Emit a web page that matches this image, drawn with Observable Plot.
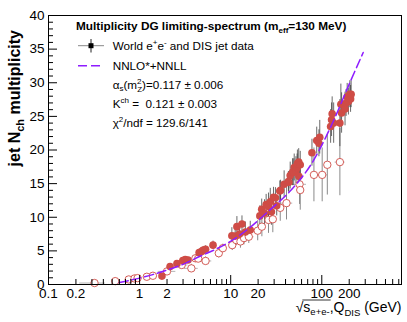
<!DOCTYPE html>
<html><head><meta charset="utf-8">
<script src="https://cdn.jsdelivr.net/npm/d3@7"></script>
<script src="https://cdn.jsdelivr.net/npm/@observablehq/plot@0.6"></script>
<style>
body{margin:0;background:#fff}
svg{font-family:"Liberation Sans",Arial,Helvetica,sans-serif}
</style>
</head><body><div id="chart"></div>
<script>
// ---- data ----
// filled points: world e+e- data
const filledX   = [1.76,2.16,2.57,2.98,3.17,3.4,4.5,4.8,4.95,5.3,6.4,10.3,11.2,11.7,12.5,13.3,14.5,16.4,20.9,21.9,23.5,24.5,26,27.2,28,29.5,31,32,34.6,35.3,38.6,43,43.5,45,47.7,49.2,49.8,52,53.6,54,55.8,56,58,78,88,93,95,125,128,130,135,158,162,165,180,185,190,196,203,207,210];
const filledN   = [1.25,2.66,3.1,3.55,3.7,3.65,4.75,4.9,5.1,5.25,5.85,7.25,7.2,8.6,7.5,9.0,7.8,8.1,10.2,11.2,10.6,11.9,11.6,12.3,10.8,12.95,12.9,11.7,13.9,14.0,14.9,15.3,15.2,16.2,16.7,16.7,17.4,17.0,17.4,18.0,18.2,16.1,17.8,19.6,21.4,21.0,21.9,23.5,24.5,25.4,24.0,24.0,26.8,25.5,26.1,27.0,27.9,27.2,28.3,27.6,28.3];
const filledErr = [0.3,0.3,0.3,0.4,0.4,0.4,0.5,0.5,0.5,0.5,0.6,1.2,1.5,1.5,1.6,1.2,1.5,1.3,1.5,1.5,2,1.5,2,2,2,1.5,1.5,1.5,1.5,1.5,2,1.5,1.5,2,2,2,2,2,2,2,2,2.5,2,2,2,2,2.5,2.5,2.5,2.5,3,3.5,3,3,2.5,2,2,2,2,2,2];
// open points: DIS jet data
const openX   = [0.32,0.54,0.76,0.88,0.95,1.2,1.4,2.0,2.9,3.7,4.1,4.4,5.3,7.4,8.2,10.4,11.5,12.8,14,15.8,19.8,22,26,29,35,41,57,58,82,101,115,158];
const openN   = [0.22,0.5,0.75,0.9,0.95,1.15,1.3,1.95,2.9,2.4,3.9,3.85,3.5,4.65,5.4,5.85,6.6,6.4,6.9,7.1,8.0,8.6,9.6,9.7,11.4,12.1,14.9,14.05,16.3,16.3,17.8,18.2];
const openErr = [0.2,0.15,0.15,0.2,0.2,0.2,0.2,0.3,0.4,0.6,0.5,0.5,0.6,0.7,0.6,0.8,0.8,1.0,1,1,1.5,1.5,2,2,2,2.5,3,3,4,4,4.5,5];
// horizontal (bin) extents of some DIS points
const binX  = [0.32,2.0,2.9,3.7,5.3,15.8,41,57,101,158];
const binN  = [0.22,1.95,2.9,2.4,3.5,7.1,12.1,14.9,16.3,18.2];
const binLo = [0.22,1.6,2.4,3.1,4.5,13,35,48,88,140];
const binHi = [0.42,2.5,3.4,4.4,6.2,18,48,68,115,180];
// NNLO*+NNLL curve
const curveX = [0.6,0.8,1,1.5,2,3,4.6,7,10.8,16,25,45,75,125,200,285];
const curveN = [0.3,0.65,0.95,1.6,2.15,3.0,4.2,5.3,6.7,8.4,10.7,13.9,17.7,23.4,29.8,34.5];
// axis ticks
const xMajorTicks = [0.1,1,10,100];
const xMinorTicks = [0.2,0.3,0.4,0.5,0.6,0.7,0.8,0.9,2,3,4,5,6,7,8,9,20,30,40,50,60,70,80,90,200,300,400,500,600,700];
const xTickLabels = [0.1,0.2,1,2,3,4,10,20,100,200];
const yMajorTicks = [0,5,10,15,20,25,30,35,40];
const yMinorTicks = d3.range(0,41).filter(v => v % 5 !== 0);

// ---- build tables ----
const filled = filledX.map((x,i)=>({x, n: filledN[i], e: filledErr[i]}));
const open = openX.map((x,i)=>({x, n: openN[i], e: openErr[i]}));
const bins = binX.map((x,i)=>({x, n: binN[i], lo: binLo[i], hi: binHi[i]}));
const curve = curveX.map((x,i)=>({x, n: curveN[i]}));

const red = "#cf4c46";
const purple = "#8e1cff";
const fs = 13.5;

const chart = Plot.plot({
  width: 407, height: 322,
  marginLeft: 48, marginRight: 6, marginTop: 15, marginBottom: 38,
  x: {type: "log", domain: [0.1, 750]},
  y: {domain: [0, 40]},
  style: {background: "white", fontFamily: "Liberation Sans, Arial, sans-serif", fontSize: fs + "px", color: "black"},
  marks: [
    Plot.ruleY(bins, {y: "n", x1: "lo", x2: "hi", stroke: "#b5b5b5"}),
    Plot.ruleX(open, {x: "x", y1: d => d.n - d.e, y2: d => d.n + d.e, stroke: "#8a8a8a"}),
    Plot.ruleX(filled, {x: "x", y1: d => d.n - d.e, y2: d => d.n + d.e, stroke: "#3a3a3a", strokeOpacity: 0.75}),
    Plot.dot(open, {x: "x", y: "n", r: 3.7, stroke: red, strokeWidth: 0.9, fill: "white"}),
    Plot.dot(filled, {x: "x", y: "n", r: 3.8, fill: red}),
    Plot.line(curve, {x: "x", y: "n", stroke: purple, strokeWidth: 1.5, strokeDasharray: "9,4", curve: "catmull-rom"}),
    Plot.axisY({ticks: yMajorTicks, tickSize: -9, tickPadding: 13, label: null, fontSize: fs}),
    Plot.axisY({ticks: yMinorTicks, tickSize: -5, tickFormat: () => "", label: null}),
    Plot.axisX({ticks: xMajorTicks, tickSize: -9, tickFormat: () => "", label: null}),
    Plot.axisX({ticks: xMinorTicks, tickSize: -5, tickFormat: () => "", label: null}),
    Plot.axisX({ticks: xTickLabels, tickSize: 0, tickPadding: 4, tickFormat: d => String(d), label: null, fontSize: fs}),
    Plot.frame({stroke: "black"})
  ]
});
document.getElementById("chart").append(chart);

const svg = d3.select(chart);

// y label
const yl = svg.append("text")
  .attr("transform", "translate(19.5,30) rotate(-90)")
  .attr("text-anchor", "end").attr("font-weight", "bold").attr("font-size", 16);
yl.append("tspan").text("jet N");
yl.append("tspan").attr("font-size", 11).attr("dy", 4).text("ch");
yl.append("tspan").attr("dy", -4).text(" multiplicity");

// x label
const xl = svg.append("text").attr("x", 401.5).attr("y", 311.5)
  .attr("text-anchor", "end").attr("font-size", 14);
xl.append("tspan").text("\u221A");
xl.append("tspan").text("s");
xl.append("tspan").attr("font-size", 9.5).attr("dy", 3).text("e+e-");
xl.append("tspan").attr("dy", -3).text(",Q");
xl.append("tspan").attr("font-size", 9.5).attr("dy", 4).text("DIS");
xl.append("tspan").attr("dy", -4).text(" (GeV)");
try {
  const node = xl.node();
  const e0 = node.getExtentOfChar(0);
  const e5 = node.getEndPositionOfChar(5);
  svg.append("line").attr("x1", e0.x + e0.width - 1).attr("x2", e5.x + 1)
    .attr("y1", e0.y + 1.5).attr("y2", e0.y + 1.5).attr("stroke", "black").attr("stroke-width", 0.8);
} catch (err) {}

// title
const tt = svg.append("text").attr("x", 76).attr("y", 30.3).attr("text-anchor", "start")
  .attr("font-weight", "bold").attr("font-size", 11.8);
tt.append("tspan").text("Multiplicity DG limiting-spectrum (m");
tt.append("tspan").attr("font-size", 8).attr("dy", 3).text("eff");
tt.append("tspan").attr("dy", -3).text("=130 MeV)");

// legend
const lg = svg.append("g").attr("font-size", 11.7).attr("text-anchor", "start");
lg.append("line").attr("x1", 78).attr("x2", 104).attr("y1", 45.7).attr("y2", 45.7).attr("stroke", "#888");
lg.append("line").attr("x1", 91).attr("x2", 91).attr("y1", 39).attr("y2", 52.5).attr("stroke", "#222");
lg.append("rect").attr("x", 88.5).attr("y", 43.2).attr("width", 5).attr("height", 5).attr("fill", "black");
const t1 = lg.append("text").attr("x", 112.7).attr("y", 49.7);
t1.append("tspan").text("World e");
t1.append("tspan").attr("font-size", 8).attr("dy", -5).text("+");
t1.append("tspan").attr("dy", 5).text("e");
t1.append("tspan").attr("font-size", 8).attr("dy", -5).text("-");
t1.append("tspan").attr("dy", 5).text(" and DIS jet data");

lg.append("line").attr("x1", 78).attr("x2", 104).attr("y1", 65.7).attr("y2", 65.7)
  .attr("stroke", purple).attr("stroke-width", 1.5).attr("stroke-dasharray", "9,4");
lg.append("text").attr("x", 112.7).attr("y", 69.7).text("NNLO*+NNLL");

const t3 = lg.append("text").attr("x", 112.7).attr("y", 88.5);
t3.append("tspan").text("\u03B1");
t3.append("tspan").attr("font-size", 8).attr("dy", 2.5).text("s");
t3.append("tspan").attr("dy", -2.5).text("(m");
t3.append("tspan").attr("font-size", 8).attr("dy", -5).text("2");
t3.append("tspan").attr("font-size", 8).attr("dx", -4.4).attr("dy", 8).text("Z");
t3.append("tspan").attr("dy", -3).text(")=0.117 \u00B1 0.006");

const t4 = lg.append("text").attr("x", 112.7).attr("y", 108).style("white-space", "pre");
t4.append("tspan").text("K");
t4.append("tspan").attr("font-size", 8).attr("dy", -5).text("ch");
t4.append("tspan").attr("dy", 5).text(" =  0.121 \u00B1 0.003");

const t5 = lg.append("text").attr("x", 112.7).attr("y", 127.3);
t5.append("tspan").text("\u03C7");
t5.append("tspan").attr("font-size", 8).attr("dy", -5).text("2");
t5.append("tspan").attr("dy", 5).text("/ndf = 129.6/141");
</script>
</body></html>
